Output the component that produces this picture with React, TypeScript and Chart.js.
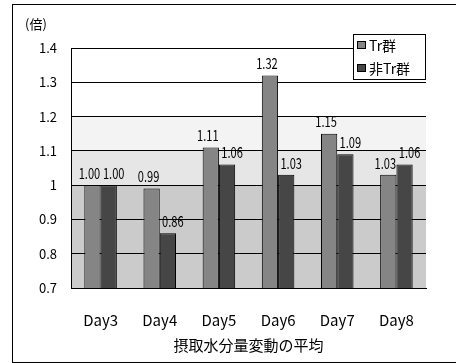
import React, { useEffect, useRef } from "react";
import { Chart, registerables } from "chart.js";

Chart.register(...registerables);

const categories = ["Day3", "Day4", "Day5", "Day6", "Day7", "Day8"];
const trValues = [1.0, 0.99, 1.11, 1.32, 1.15, 1.03];
const nonTrValues = [1.0, 0.86, 1.06, 1.03, 1.09, 1.06];
const seriesNames = ["Tr群", "非Tr群"];
const yMin = 0.7;
const yMax = 1.4;
const yStep = 0.1;
const unitLabel = "(倍)";
const xTitle = "摂取水分量変動の平均";

// shaded value ranges behind the bars: [from, to]
const bandRanges: [number, number][] = [
  [0.7, 1.0],
  [1.0, 1.1],
  [1.1, 1.2],
];
const bandColors = ["#cbcbcb", "#e6e6e6", "#f3f3f3"];

const FONT = "'Noto Sans CJK JP', 'Noto Sans', sans-serif";

// horizontal nudge of the value labels per series
const labelShift = [-3, 5];

const decorPlugin = {
  id: "decor",
  beforeDraw(chart: any) {
    const { ctx, chartArea, scales } = chart;
    ctx.save();
    ctx.fillStyle = "#ffffff";
    ctx.fillRect(0, 0, chart.width, chart.height);
    // outer frame
    ctx.strokeStyle = "#000";
    ctx.lineWidth = 1;
    ctx.strokeRect(12.5, 4.5, chart.width - 12, chart.height - 5);
    // background bands
    bandRanges.forEach(([a, b], i) => {
      const y1 = scales.y.getPixelForValue(b);
      const y0 = scales.y.getPixelForValue(a);
      ctx.fillStyle = bandColors[i];
      ctx.fillRect(chartArea.left, y1, chartArea.right - chartArea.left, y0 - y1);
    });
    ctx.restore();
  },
  afterDatasetsDraw(chart: any) {
    const { ctx } = chart;
    ctx.save();
    ctx.font = `15px ${FONT}`;
    ctx.fillStyle = "#000";
    ctx.textAlign = "center";
    ctx.textBaseline = "middle";
    chart.data.datasets.forEach((ds: any, di: number) => {
      const meta = chart.getDatasetMeta(di);
      meta.data.forEach((el: any, i: number) => {
        // condensed value label above each bar
        ctx.save();
        ctx.translate(el.x + labelShift[di], el.y - 12);
        ctx.scale(0.74, 1);
        ctx.fillText(Number(ds.data[i]).toFixed(2), 0, 0);
        ctx.restore();
      });
    });
    ctx.restore();
  },
  afterDraw(chart: any) {
    const { ctx } = chart;
    ctx.save();
    // unit label
    ctx.font = `13px ${FONT}`;
    ctx.fillStyle = "#000";
    ctx.textAlign = "left";
    ctx.textBaseline = "middle";
    ctx.fillText(unitLabel, 25, 24);
    // legend box
    const lx = 353, ly = 34, lw = 72, lh = 45;
    ctx.fillStyle = "#fff";
    ctx.fillRect(lx, ly, lw, lh);
    ctx.strokeStyle = "#000";
    ctx.lineWidth = 1;
    ctx.strokeRect(lx + 0.5, ly + 0.5, lw, lh);
    ctx.font = `14px ${FONT}`;
    chart.data.datasets.forEach((ds: any, i: number) => {
      const cy = ly + 11 + i * 23;
      ctx.fillStyle = ds.backgroundColor;
      ctx.fillRect(lx + 4, cy - 4, 9, 8);
      ctx.strokeStyle = "#000";
      ctx.strokeRect(lx + 4.5, cy - 3.5, 8, 7);
      ctx.fillStyle = "#000";
      ctx.fillText(ds.label, lx + 16, cy + 1);
    });
    ctx.restore();
  },
};

export default function App() {
  const ref = useRef<HTMLCanvasElement | null>(null);

  useEffect(() => {
    if (!ref.current) return;
    const chart = new Chart(ref.current, {
      type: "bar",
      data: {
        labels: categories,
        datasets: [
          {
            label: seriesNames[0],
            data: trValues,
            backgroundColor: "#858585",
            borderColor: "#000",
            borderWidth: 1,
            barPercentage: 1,
            categoryPercentage: 0.55,
          },
          {
            label: seriesNames[1],
            data: nonTrValues,
            backgroundColor: "#464646",
            borderColor: "#000",
            borderWidth: 1,
            barPercentage: 1,
            categoryPercentage: 0.55,
          },
        ],
      },
      options: {
        responsive: false,
        animation: false,
        devicePixelRatio: 1,
        layout: { padding: { left: 0, top: 48, right: 30, bottom: 0 } },
        plugins: {
          legend: { display: false },
          tooltip: { enabled: false },
          title: { display: false },
        },
        scales: {
          x: {
            grid: { display: false },
            border: { display: true, color: "#000" },
            ticks: {
              color: "#000",
              padding: 15,
              font: { family: FONT, size: 15 },
              maxRotation: 0,
            },
            title: {
              display: true,
              text: xTitle,
              color: "#000",
              font: { family: FONT, size: 15 },
              padding: { top: 0, bottom: 9 },
            },
            afterFit(s: any) {
              s.height = 75;
            },
          },
          y: {
            min: yMin,
            max: yMax,
            grid: { color: "#000", drawTicks: false },
            border: { display: true, color: "#000" },
            ticks: {
              stepSize: yStep,
              color: "#000",
              padding: 14,
              font: { family: FONT, size: 13 },
              callback: (v: any) => String(Number(Number(v).toFixed(1))),
            },
            afterFit(s: any) {
              s.width = 71;
            },
          },
        },
      },
      plugins: [decorPlugin],
    });
    return () => chart.destroy();
  }, []);

  return (
    <div style={{ position: "fixed", left: 0, top: 0, width: 456, height: 363 }}>
      <canvas ref={ref} width={456} height={363} />
    </div>
  );
}
